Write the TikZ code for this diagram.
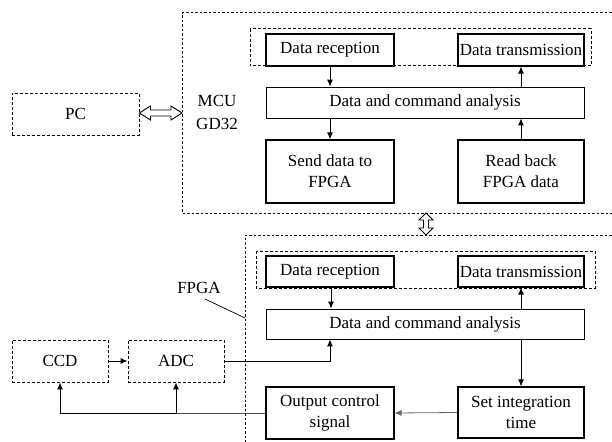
\documentclass[tikz,border=0pt]{standalone}
\usepackage{fontspec}
\setmainfont{Liberation Serif}
\usetikzlibrary{arrows.meta,calc}
\begin{document}
\begin{tikzpicture}[x=1pt,y=-1pt,
  every node/.style={font=\fontsize{17}{21}\selectfont, inner sep=0pt, align=center},
  blk/.style={draw, line width=1.1pt, minimum width=128pt},
  wideblk/.style={draw, line width=0.8pt, minimum width=318pt},
  ext/.style={draw, line width=0.9pt, dash pattern=on 3pt off 2pt},
  grp/.style={line width=1pt, dash pattern=on 3pt off 2pt},
  outer/.style={line width=1pt, dash pattern=on 2.5pt off 2pt},
  sig/.style={line width=1pt, -{Latex[length=7pt,width=6pt]}},
  greysig/.style={line width=0.8pt, draw=black!60, -{Latex[length=7pt,width=6pt]}},
  hollow/.style={draw, line width=0.9pt, fill=white, line join=miter}
]
\useasboundingbox (0,0) rectangle (612,441);

% ---------------- MCU ----------------
\draw[outer] (616,13) -- (182,13) -- (182,213) -- (616,213);
\coordinate (mcuW) at (182,113);
\coordinate (mcuS) at (426,213);
\draw[grp] (250,29) rectangle (591,66);
\node[blk, minimum height=32pt] (rx1) at (330,50) {Data reception};
\node[blk, minimum width=126pt, minimum height=32pt] (tx1) at (521,50) {Data transmission};
\node[wideblk, minimum height=31pt] (an1) at (425,102.5) {Data and command analysis};
\node[blk, minimum height=63pt] (send) at (330,171.5) {Send data to\\FPGA};
\node[blk, minimum width=126pt, minimum height=63pt] (rb) at (521,171.5) {Read back\\FPGA data};
\node[font=\fontsize{17}{23}\selectfont] (mcu) at (217,112) {MCU\\GD32};

\draw[sig] (rx1.south) -- (an1.north -| rx1.south);
\draw[sig] (an1.south -| send.north) -- (send.north);
\draw[sig] (rb.north) -- (an1.south -| rb.north);
\draw[sig] (an1.north -| tx1.south) -- (tx1.south);

% ---------------- PC ----------------
\node[ext, minimum width=127pt, minimum height=42pt] (pc) at (75.5,114) {PC};

% hollow two-way arrow PC <-> MCU
\coordinate (hA) at (pc.east |- mcuW);
\draw[hollow] (hA)
  -- ++(11,-7) -- ++(0,4) -- ($(mcuW)+(-11,-3)$) -- ++(0,-4) -- (mcuW)
  -- ++(-11,7) -- ++(0,-4) -- ($(hA)+(11,3)$) -- ++(0,4) -- cycle;

% ---------------- FPGA ----------------
\draw[outer] (616,235) -- (245,235) -- (245,445);
\coordinate (fpgaN) at (426,235);

% hollow two-way arrow MCU <-> FPGA
\draw[hollow] (mcuS)
  -- ++(7,7) -- ++(-4.5,0) -- ($(fpgaN)+(2.5,-7)$) -- ++(4.5,0) -- (fpgaN)
  -- ++(-7,-7) -- ++(4.5,0) -- ($(mcuS)+(-2.5,7)$) -- ++(-4.5,0) -- cycle;

\draw[grp] (256,251) rectangle (595,288);
\node[blk, minimum height=31pt] (rx2) at (330,271.5) {Data reception};
\node[blk, minimum width=126pt, minimum height=31pt] (tx2) at (521,271.5) {Data transmission};
\node[wideblk, minimum height=30pt] (an2) at (425,324) {Data and command analysis};
\node[blk, minimum width=126pt, minimum height=51pt] (set) at (521,412.5) {Set integration\\time};
\node[blk, minimum height=52pt] (out) at (330,413) {Output control\\signal};

\node (fpga) at (199,288) {FPGA};
\coordinate (fpgaTip) at (245,318);
\draw[line width=0.7pt] (205,299) -- (fpgaTip);

% ---------------- sensor chain ----------------
\node[ext, minimum width=96pt, minimum height=42pt] (ccd) at (60,361) {CCD};
\node[ext, minimum width=96pt, minimum height=42pt] (adc) at (176,361) {ADC};

\draw[sig] (ccd.east) -- (adc.west);
\draw[sig] (adc.east) -- (330,361) -- (an2.south -| 330,0);
\draw[sig] (rx2.south -| 331,0) -- (an2.north -| 331,0);
\draw[sig] (an2.north -| tx2.south) -- (tx2.south);
\draw[sig] (an2.south -| set.north) -- (set.north);
\draw[greysig] (set.west) -- (out.east);

\coordinate (branch) at (adc.south |- out.west);
\draw[line width=0.9pt, draw=black!70] (out.west) -- (branch);
\draw[sig] (branch) -- (ccd.south |- out.west) -- (ccd.south);
\draw[sig] (branch) -- (adc.south);
\end{tikzpicture}
\end{document}
